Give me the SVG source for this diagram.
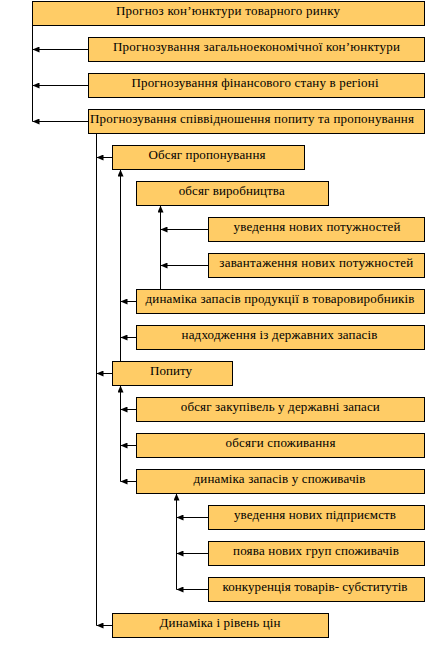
<svg xmlns="http://www.w3.org/2000/svg" width="441" height="650" viewBox="0 0 441 650">
<style>
.b{fill:#FFCC66;stroke:#000;stroke-width:1}
.t{font-size:13px;fill:#000;text-anchor:middle}
.c line{stroke:#000;stroke-width:1}
.a{marker-end:url(#ah)}
</style>
<defs>
<marker id="ah" markerUnits="userSpaceOnUse" markerWidth="8" markerHeight="6" refX="7" refY="3" orient="auto">
<path d="M0,0 L7,3 L0,6 z" fill="#000"/>
</marker>
</defs>
<rect width="441" height="650" fill="#fff"/>
<g class="c" id="connectors">
<line x1="32.5" y1="25.5" x2="32.5" y2="121.5"/>
<line class="a" x1="88.5" y1="49.5" x2="32.5" y2="49.5"/>
<line class="a" x1="88.5" y1="85.5" x2="32.5" y2="85.5"/>
<line class="a" x1="88.5" y1="121.5" x2="32.5" y2="121.5"/>
<line x1="96.5" y1="133.5" x2="96.5" y2="625.5"/>
<line class="a" x1="112.5" y1="157.5" x2="96.5" y2="157.5"/>
<line class="a" x1="112.5" y1="373.5" x2="96.5" y2="373.5"/>
<line class="a" x1="112.5" y1="625.5" x2="96.5" y2="625.5"/>
<line class="a" x1="120.5" y1="361.5" x2="120.5" y2="169.5"/>
<line class="a" x1="136.5" y1="301.5" x2="120.5" y2="301.5"/>
<line class="a" x1="136.5" y1="337.5" x2="120.5" y2="337.5"/>
<line class="a" x1="160.5" y1="289.5" x2="160.5" y2="205.5"/>
<line class="a" x1="208.5" y1="229.5" x2="160.5" y2="229.5"/>
<line class="a" x1="208.5" y1="265.5" x2="160.5" y2="265.5"/>
<line class="a" x1="120.5" y1="481.5" x2="120.5" y2="385.5"/>
<line class="a" x1="136.5" y1="409.5" x2="120.5" y2="409.5"/>
<line class="a" x1="136.5" y1="445.5" x2="120.5" y2="445.5"/>
<line class="a" x1="136.5" y1="481.5" x2="120.5" y2="481.5"/>
<line class="a" x1="176.5" y1="589.5" x2="176.5" y2="493.5"/>
<line class="a" x1="208.5" y1="517.5" x2="176.5" y2="517.5"/>
<line class="a" x1="208.5" y1="553.5" x2="176.5" y2="553.5"/>
<line class="a" x1="208.5" y1="589.5" x2="176.5" y2="589.5"/>
</g>
<g id="nodes" font-family="Liberation Serif, serif">
<g id="n1"><rect class="b" x="32.5" y="1.5" width="392" height="24"/><text class="t" x="228" y="14.5" textLength="224" lengthAdjust="spacing">Прогноз кон’юнктури товарного ринку</text></g>
<g id="n2"><rect class="b" x="88.5" y="37.5" width="336" height="24"/><text class="t" x="256.5" y="50.5" textLength="287" lengthAdjust="spacing">Прогнозування загальноекономічної кон’юнктури</text></g>
<g id="n3"><rect class="b" x="88.5" y="73.5" width="336" height="24"/><text class="t" x="255" y="86.5" textLength="247" lengthAdjust="spacing">Прогнозування фінансового стану в регіоні</text></g>
<g id="n4"><rect class="b" x="88.5" y="109.5" width="336" height="24"/><text class="t" x="252" y="122.5" textLength="324" lengthAdjust="spacing">Прогнозування співвідношення попиту та пропонування</text></g>
<g id="n5"><rect class="b" x="112.5" y="145.5" width="192" height="24"/><text class="t" x="207" y="158.5" textLength="117" lengthAdjust="spacing">Обсяг пропонування</text></g>
<g id="n6"><rect class="b" x="136.5" y="181.5" width="192" height="24"/><text class="t" x="231.7" y="194.5" textLength="106" lengthAdjust="spacing">обсяг виробництва</text></g>
<g id="n7"><rect class="b" x="208.5" y="217.5" width="216" height="24"/><text class="t" x="317" y="230.5" textLength="167" lengthAdjust="spacing">уведення нових потужностей</text></g>
<g id="n8"><rect class="b" x="208.5" y="253.5" width="216" height="24"/><text class="t" x="316.3" y="266.5" textLength="194" lengthAdjust="spacing">завантаження нових потужностей</text></g>
<g id="n9"><rect class="b" x="136.5" y="289.5" width="288" height="24"/><text class="t" x="280" y="302.5" textLength="269" lengthAdjust="spacing">динаміка запасів продукції в товаровиробників</text></g>
<g id="n10"><rect class="b" x="136.5" y="325.5" width="288" height="24"/><text class="t" x="279.5" y="338.5" textLength="196" lengthAdjust="spacing">надходження із державних запасів</text></g>
<g id="n11"><rect class="b" x="112.5" y="361.5" width="120" height="24"/><text class="t" x="171" y="374.5" textLength="42" lengthAdjust="spacing">Попиту</text></g>
<g id="n12"><rect class="b" x="136.5" y="397.5" width="288" height="24"/><text class="t" x="280.3" y="410.5" textLength="199" lengthAdjust="spacing">обсяг закупівель у державні запаси</text></g>
<g id="n13"><rect class="b" x="136.5" y="433.5" width="288" height="24"/><text class="t" x="280.5" y="446.5" textLength="110" lengthAdjust="spacing">обсяги споживання</text></g>
<g id="n14"><rect class="b" x="136.5" y="469.5" width="288" height="24"/><text class="t" x="279.5" y="482.5" textLength="172" lengthAdjust="spacing">динаміка запасів у споживачів</text></g>
<g id="n15"><rect class="b" x="208.5" y="505.5" width="216" height="24"/><text class="t" x="315" y="518.5" textLength="162" lengthAdjust="spacing">уведення нових підприємств</text></g>
<g id="n16"><rect class="b" x="208.5" y="541.5" width="216" height="24"/><text class="t" x="316" y="554.5" textLength="166" lengthAdjust="spacing">поява нових груп споживачів</text></g>
<g id="n17"><rect class="b" x="208.5" y="577.5" width="216" height="24"/><text class="t" x="315" y="590.5" textLength="185" lengthAdjust="spacing">конкуренція товарів- субститутів</text></g>
<g id="n18"><rect class="b" x="112.5" y="613.5" width="216" height="24"/><text class="t" x="220" y="626.5" textLength="121" lengthAdjust="spacing">Динаміка і рівень цін</text></g>
</g>
</svg>
